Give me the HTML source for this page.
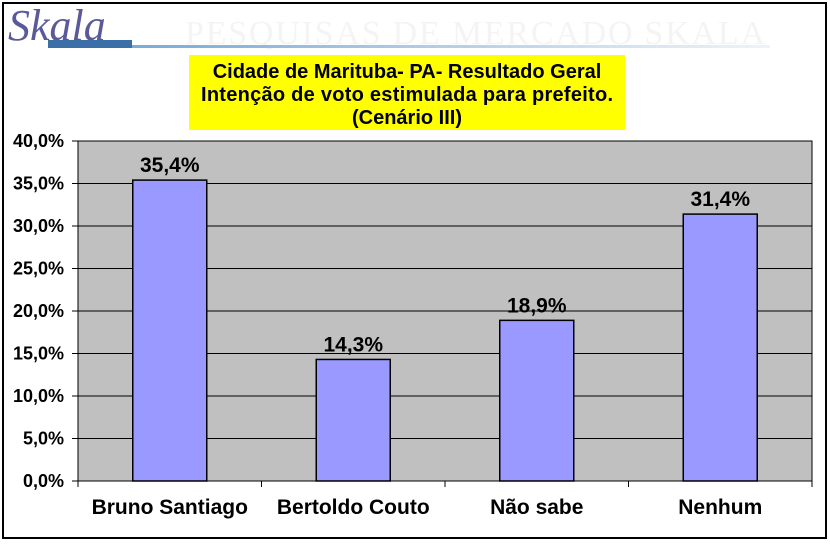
<!DOCTYPE html>
<html><head><meta charset="utf-8"><style>
body{margin:0;background:#fff;}
#wrap{position:relative;width:830px;height:544px;overflow:hidden;font-family:"Liberation Sans",sans-serif;}
</style></head><body>
<div id="wrap">
<svg width="830" height="544">
<rect x="3" y="3" width="823" height="535" fill="#fff" stroke="#000" stroke-width="2"/>
<text x="185" y="44" font-family="Liberation Serif,serif" font-size="34" fill="#f4f4f4" textLength="580">PESQUISAS DE MERCADO SKALA</text>
<defs><linearGradient id="g" x1="0" x2="1"><stop offset="0" stop-color="#7aaad6"/><stop offset="1" stop-color="#eef3f8"/></linearGradient></defs>
<rect x="130" y="45" width="640" height="3" fill="url(#g)"/>
<rect x="48" y="40" width="84" height="8" fill="#3b6fa8"/>
<text x="8" y="40" font-family="Liberation Serif,serif" font-style="italic" font-size="44" fill="#5a5a9a">Skala</text>
<rect x="189" y="55" width="436" height="75" fill="#ffff00"/>
<g font-weight="bold" font-size="20" text-anchor="middle" fill="#000">
<text x="407" y="78">Cidade de Marituba- PA- Resultado Geral</text>
<text x="407" y="101" textLength="412">Intenção de voto estimulada para prefeito.</text>
<text x="407" y="124">(Cenário III)</text>
</g>
<g id="plot"></g>
</svg>
</div>
<script>
const categories=["Bruno Santiago","Bertoldo Couto","Não sabe","Nenhum"];
const values=[35.4,14.3,18.9,31.4];
const valueLabels=["35,4%","14,3%","18,9%","31,4%"];
const ticks=[0,5,10,15,20,25,30,35,40];
const tickLabels=["0,0%","5,0%","10,0%","15,0%","20,0%","25,0%","30,0%","35,0%","40,0%"];
const X0=78,X1=812,Y0=481,Y1=141,MAX=40;
const y=v=>Y0-(v/MAX)*(Y0-Y1);
const cw=(X1-X0)/categories.length;
const xc=i=>X0+cw*(i+0.5);
const NS="http://www.w3.org/2000/svg";
const g=document.getElementById('plot');
function mk(t,a){const e=document.createElementNS(NS,t);for(const k in a)e.setAttribute(k,a[k]);g.appendChild(e);return e;}
const bg=mk('rect',{x:X0,y:Y1,width:X1-X0,height:Y0-Y1,fill:'#c0c0c0',stroke:'#000','stroke-width':1});


ticks.forEach((t,i)=>{
 const l=mk('line',{x1:X0-6,x2:X1,y1:y(t),y2:y(t),stroke:'#000','stroke-width':1});
 
 
 const tx=mk('text',{x:X0-14,y:y(t)+6,'text-anchor':'end','font-size':18,'font-weight':'bold'});
 tx.textContent=tickLabels[i];
 
 
});
for(let i=0;i<=categories.length;i++){
 const l=mk('line',{x1:X0+cw*i,x2:X0+cw*i,y1:Y0,y2:Y0+6,stroke:'#000'});
 
 
}
mk('line',{x1:X0,x2:X0,y1:Y1,y2:Y0,stroke:'#000'});
categories.forEach((c,i)=>{
 const bw=74;
 const b=mk('rect',{x:xc(i)-bw/2,y:y(values[i]),width:bw,height:Y0-y(values[i]),fill:'#9999ff',stroke:'#000','stroke-width':1.5});
 
 
 const v=mk('text',{x:xc(i),y:y(values[i])-8,'text-anchor':'middle','font-size':21,'font-weight':'bold'});
 v.textContent=valueLabels[i];
 
 
 const cl=mk('text',{x:xc(i),y:514,'text-anchor':'middle','font-size':21,'font-weight':'bold'});
 cl.textContent=c;
 
 
});
</script>
</body></html>
